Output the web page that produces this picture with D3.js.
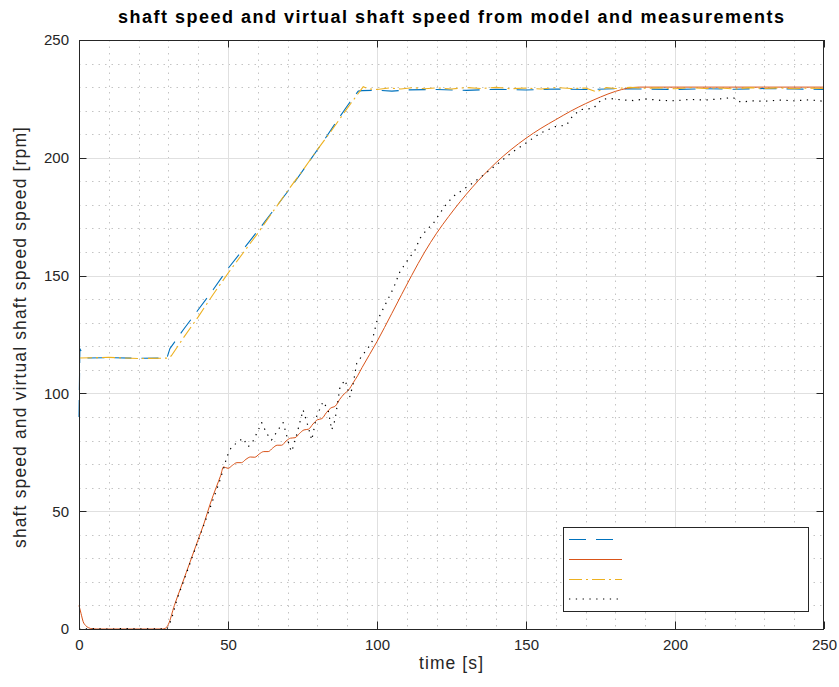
<!DOCTYPE html>
<html>
<head>
<meta charset="utf-8">
<script src="https://cdn.jsdelivr.net/npm/d3@7"></script>
<style>
  html, body { margin: 0; padding: 0; background: #fff; }
  svg { display: block; font-family: "Liberation Sans", Arial, Helvetica, sans-serif; }
</style>
</head>
<body>
<svg id="chart" width="839" height="687"></svg>
<script>
// ---------- data ----------
const titleText = "shaft speed and virtual shaft speed from model and measurements";
const xLabelText = "time [s]";
const yLabelText = "shaft speed and virtual shaft speed speed [rpm]";
const xTicks = [0, 50, 100, 150, 200, 250];
const yTicks = [0, 50, 100, 150, 200, 250];
const legendLabels = ["", "", "", ""];

// series 1: blue dashed
const blueT = [0, 0.3, 1.4, 2.5, 10, 20, 29.5, 30.5, 35, 40, 45, 50, 55, 60, 67, 72, 77, 82, 87, 90, 93.7, 95, 100, 105, 110, 120, 130, 140, 150, 160, 170, 180, 190, 200, 210, 220, 230, 240, 250];
const blueV = [90, 119, 116.3, 115, 115.2, 114.9, 115, 119, 127, 135.5, 144, 153, 161, 169, 180.6, 189, 198, 207, 216.5, 222, 228.3, 228.5, 228.7, 228.3, 228.8, 229, 228.6, 229.1, 228.8, 229.2, 229, 229.3, 229.2, 229, 229.3, 229.1, 229.4, 229.2, 229];

// series 2: orange solid (model)
const orangeT = [0, 0.7, 1.4, 2.2, 3.1, 4.5, 6, 28, 29, 30, 32, 34, 36, 38, 40, 42, 44, 46, 47.5, 48.5, 50, 51.5, 53, 54.5, 56, 57.5, 59, 60.5, 62, 63.5, 65, 66.5, 68, 69.5, 71, 72.5, 74, 75.5, 77, 78.5, 80, 81.5, 83, 84.5, 86, 87.5, 89, 90.5, 92, 93.5, 95, 100, 105, 111.6, 116, 120, 124, 128, 132, 136, 140, 145, 150, 155, 160, 165, 170, 175, 180, 184, 188, 200, 250];
const orangeV = [10, 6.5, 3.1, 1.5, 0.6, 0.1, 0, 0, 0.3, 2, 10, 17, 24, 31, 38, 45, 53, 60, 65, 68.8, 68.2, 69.5, 70.6, 70.6, 72.0, 73.0, 72.9, 74.3, 75.3, 75.3, 76.8, 78.0, 78.0, 79.8, 81.0, 81.2, 83.0, 84.5, 84.8, 87.0, 88.8, 89.3, 91.8, 93.8, 94.6, 97.5, 99.8, 101.5, 104.5, 107.5, 111, 122, 134, 150, 160, 168, 175, 181.5, 187.5, 193, 198, 203.5, 208.3, 212.5, 216.2, 219.8, 223, 225.8, 228.2, 229.5, 230, 230, 230];

// series 3: yellow dash-dot
const yellowT = [0, 10, 20, 30, 31, 35, 40, 45, 50, 55, 60, 65, 70, 75, 80, 85, 90, 95.4, 97, 100, 104, 108, 112, 116, 120, 125, 130, 135, 140, 145, 150, 155, 160, 165, 170, 173.7, 177, 180, 185, 190, 195, 200, 205, 210, 215, 220, 225, 230, 235, 240, 245, 250];
const yellowV = [115, 115.3, 114.8, 115, 116, 123.5, 132.5, 142, 151, 159.5, 168, 177, 186, 194.5, 203.5, 212, 221, 230.2, 229.3, 229, 229.6, 229.2, 229.8, 229.3, 229.7, 229.2, 229.8, 229.4, 229.9, 229.3, 229.6, 229.2, 229.8, 229.4, 229.6, 228, 229.8, 229.4, 229.9, 229.5, 229.7, 229.3, 229.8, 229.4, 229.6, 229.2, 229.8, 229.4, 229.7, 229.3, 229.6, 229.4];

// series 4: black dotted (measurements)
const blackT = [0, 5, 10, 15, 20, 25, 29.5, 30.5, 31.6, 32.8, 35, 37, 39, 41, 43, 45, 47, 48.5, 49.6, 51.2, 53, 55, 56.8, 58.5, 60, 61.3, 63, 64.6, 66.8, 68.5, 69.5, 70.8, 71.4, 73, 75.2, 76.9, 78.1, 79.7, 81.9, 83.6, 84.8, 85.9, 87.6, 89.3, 90.9, 92, 93.2, 95.4, 98.2, 99.9, 102.7, 105.5, 107.7, 110, 112.8, 114.4, 116.6, 118.9, 121.1, 123.4, 126, 131.2, 135, 140.1, 145, 149.7, 154.7, 159.7, 163.6, 165.9, 168.7, 172.6, 175.4, 178.2, 182, 186, 190, 195, 200, 205, 210, 215, 219.5, 222, 226, 230, 235, 240, 245, 250];
const blackV = [0, 0.2, -0.1, 0.2, 0, 0.1, 0, 2.4, 6.6, 12.3, 20, 27, 34, 41, 48, 55, 62, 68, 73, 77.4, 79, 81, 77.4, 80, 84, 87.6, 83, 80.2, 84.5, 87.6, 83, 76.8, 75.3, 82.3, 93, 85.9, 80.2, 90.1, 96.5, 93, 84.5, 88.7, 102.8, 105.7, 98.6, 104, 112.8, 116.7, 121.3, 130.4, 137.5, 144.6, 151.7, 156, 160.9, 165.8, 169.3, 172.2, 176.4, 180.6, 184, 188.5, 192, 197, 202, 206, 210.4, 213.2, 213.9, 218.2, 220.5, 221, 224.8, 225.2, 224.6, 224.3, 225, 224.4, 224.2, 224.8, 224.5, 225, 225.6, 223.6, 224.2, 224, 224.5, 224.2, 224.6, 224];

// ---------- chart ----------
(function () {
const svg = d3.select("#chart");
const W = 839, H = 687;
const pL = 79, pR = 824, pT = 40, pB = 629;
const axisColor = "#262626";

const x = d3.scaleLinear().domain([0, 250]).range([pL, pR]);
const y = d3.scaleLinear().domain([0, 250]).range([pB, pT]);

svg.append("rect").attr("width", W).attr("height", H).attr("fill", "#fff");

const grid = svg.append("g");
const minorX = d3.range(10, 250, 10).filter(d => d % 50 !== 0);
const minorY = d3.range(10, 250, 10).filter(d => d % 50 !== 0);
grid.selectAll(".mx").data(minorX).join("line")
  .attr("x1", d => Math.round(x(d)) + 0.5).attr("x2", d => Math.round(x(d)) + 0.5)
  .attr("y1", pT).attr("y2", pB)
  .attr("stroke", "#c4c4c4").attr("stroke-width", 1).attr("stroke-dasharray", "1.5,5");
grid.selectAll(".my").data(minorY).join("line")
  .attr("y1", d => Math.round(y(d)) + 0.5).attr("y2", d => Math.round(y(d)) + 0.5)
  .attr("x1", pL).attr("x2", pR)
  .attr("stroke", "#c4c4c4").attr("stroke-width", 1).attr("stroke-dasharray", "1.5,5");
grid.selectAll(".gx").data(xTicks.slice(1, -1)).join("line")
  .attr("x1", d => Math.round(x(d)) + 0.5).attr("x2", d => Math.round(x(d)) + 0.5)
  .attr("y1", pT).attr("y2", pB)
  .attr("stroke", "#e0e0e0").attr("stroke-width", 1);
grid.selectAll(".gy").data(yTicks.slice(1, -1)).join("line")
  .attr("y1", d => Math.round(y(d)) + 0.5).attr("y2", d => Math.round(y(d)) + 0.5)
  .attr("x1", pL).attr("x2", pR)
  .attr("stroke", "#e0e0e0").attr("stroke-width", 1);

svg.append("clipPath").attr("id", "plotclip").append("rect")
  .attr("x", pL - 1).attr("y", pT - 2).attr("width", pR - pL + 1).attr("height", pB - pT + 3);

const series = [
  { t: blueT, v: blueV, color: "#0072BD", dash: "17,10", width: 1.1, curve: d3.curveLinear },
  { t: orangeT, v: orangeV, color: "#D95319", dash: null, width: 1, curve: d3.curveMonotoneX },
  { t: yellowT, v: yellowV, color: "#EDB120", dash: "13,4,2,4", width: 1.1, curve: d3.curveLinear },
  { t: blackT, v: blackV, color: "#000000", dash: "1.3,5.5", width: 1.2, curve: d3.curveLinear }
];

const lines = svg.append("g").attr("clip-path", "url(#plotclip)");
series.forEach(s => {
  const line = d3.line().x(d => x(d[0])).y(d => y(d[1])).curve(s.curve);
  const pts = s.t.map((t, i) => [t, s.v[i]]);
  lines.append("path").datum(pts)
    .attr("d", line)
    .attr("fill", "none")
    .attr("stroke", s.color)
    .attr("stroke-width", s.width)
    .attr("stroke-dasharray", s.dash)
    .attr("stroke-linejoin", "round");
});

const fontSize = 15;
const xAxisG = svg.append("g").attr("transform", `translate(0,${pB})`)
  .call(d3.axisBottom(x).tickValues(xTicks).tickSize(0).tickPadding(10).tickFormat(d3.format("d")));
const yAxisG = svg.append("g").attr("transform", `translate(${pL},0)`)
  .call(d3.axisLeft(y).tickValues(yTicks).tickSize(0).tickPadding(10).tickFormat(d3.format("d")));
[xAxisG, yAxisG].forEach(g => {
  g.select(".domain").remove();
  g.selectAll("text").attr("fill", axisColor).style("font-size", fontSize + "px")
    .style("font-family", '"Liberation Sans", Arial, sans-serif');
});

const tickLen = 7.5;
const tickG = svg.append("g").attr("stroke", axisColor).attr("stroke-width", 1);
xTicks.forEach(d => {
  const px = Math.round(x(d)) + 0.5;
  tickG.append("line").attr("x1", px).attr("x2", px).attr("y1", pB).attr("y2", pB - tickLen);
  tickG.append("line").attr("x1", px).attr("x2", px).attr("y1", pT).attr("y2", pT + tickLen);
});
yTicks.forEach(d => {
  const py = Math.round(y(d)) + 0.5;
  tickG.append("line").attr("y1", py).attr("y2", py).attr("x1", pL).attr("x2", pL + tickLen);
  tickG.append("line").attr("y1", py).attr("y2", py).attr("x1", pR).attr("x2", pR - tickLen);
});

svg.append("rect")
  .attr("x", pL + 0.5).attr("y", pT + 0.5)
  .attr("width", pR - pL - 1).attr("height", pB - pT)
  .attr("fill", "none").attr("stroke", axisColor).attr("stroke-width", 1);

svg.append("text").attr("x", 451).attr("y", 23)
  .attr("text-anchor", "middle").attr("font-weight", "bold")
  .attr("textLength", 666).attr("lengthAdjust", "spacing")
  .style("font-size", "18px").attr("fill", "#000").text(titleText);
svg.append("text").attr("x", 451).attr("y", 669)
  .attr("text-anchor", "middle").attr("textLength", 64).attr("lengthAdjust", "spacing")
  .style("font-size", "17.5px").attr("fill", axisColor).text(xLabelText);
svg.append("text").attr("transform", `translate(26,337.5) rotate(-90)`)
  .attr("text-anchor", "middle").attr("textLength", 421).attr("lengthAdjust", "spacing")
  .style("font-size", "17.5px").attr("fill", axisColor).text(yLabelText);

const lg = { x: 563, y: 527, w: 245, h: 84 };
const legend = svg.append("g");
legend.append("rect").attr("x", lg.x + 0.5).attr("y", lg.y + 0.5).attr("width", lg.w).attr("height", lg.h)
  .attr("fill", "#fff").attr("stroke", axisColor).attr("stroke-width", 1);
const legendYs = [539.5, 559.5, 579.5, 599];
series.forEach((s, i) => {
  legend.append("line")
    .attr("x1", 569).attr("x2", 622)
    .attr("y1", legendYs[i]).attr("y2", legendYs[i])
    .attr("stroke", s.color).attr("stroke-width", s.width)
    .attr("stroke-dasharray", s.dash);
  legend.append("text").attr("x", 630).attr("y", legendYs[i] + 5)
    .style("font-size", "14px").attr("fill", axisColor).text(legendLabels[i]);
});
})();
</script>
</body>
</html>
